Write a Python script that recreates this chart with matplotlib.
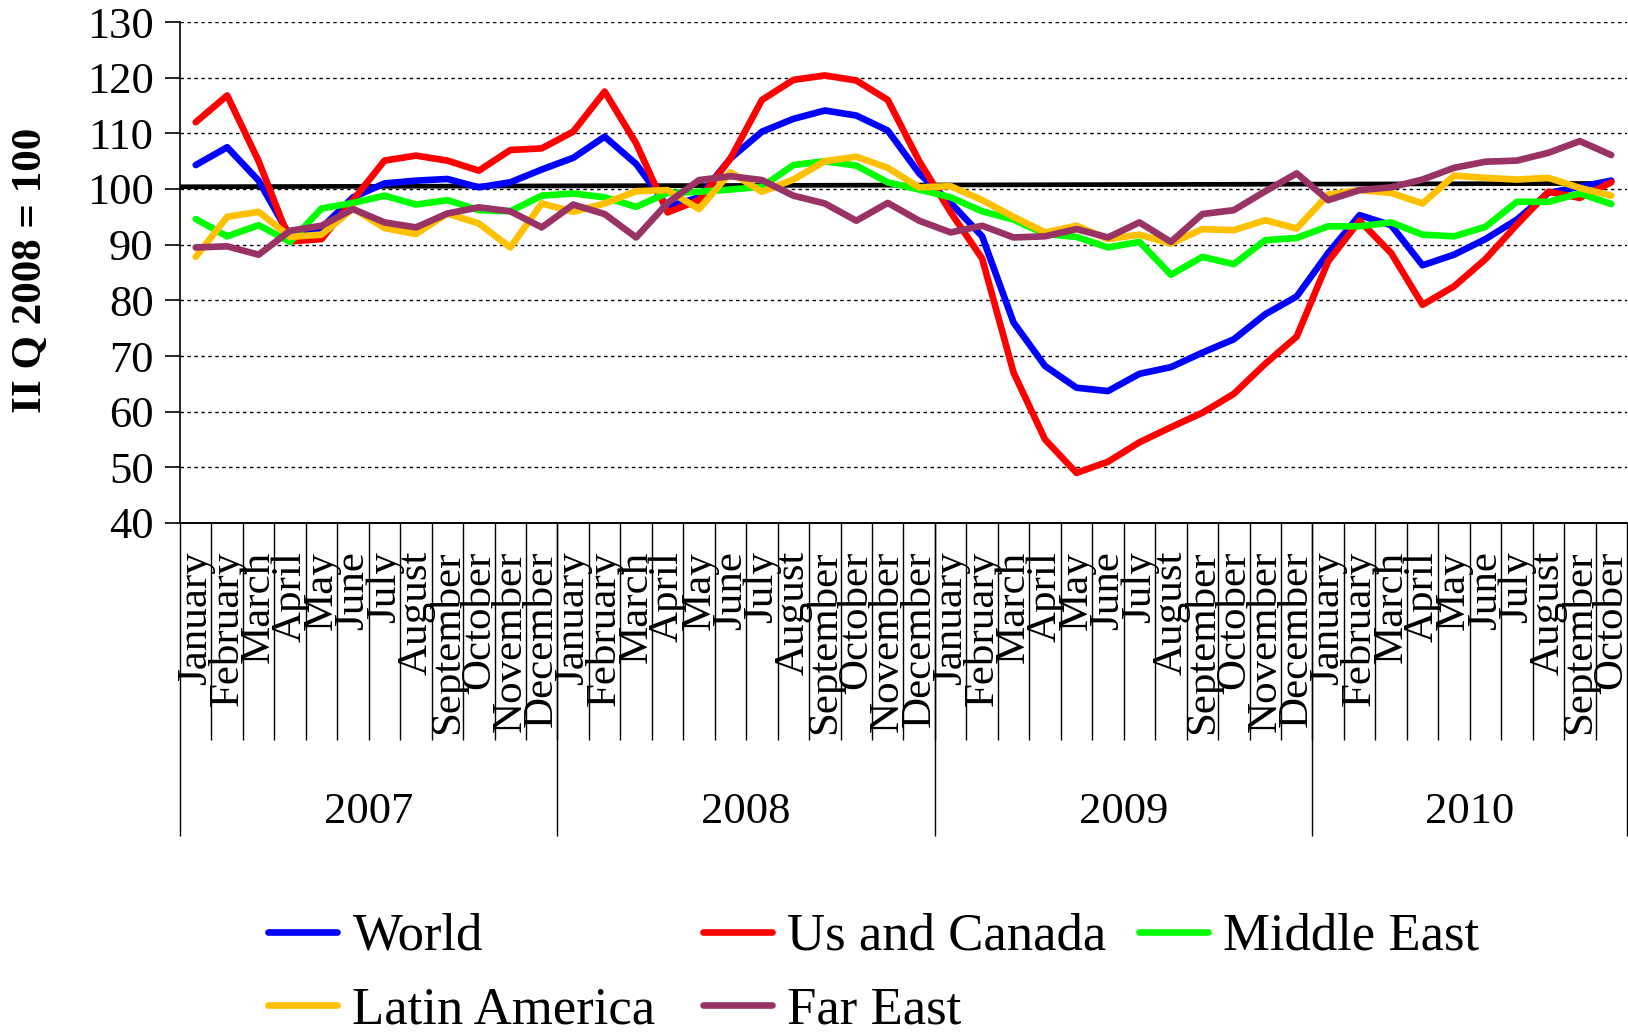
import matplotlib
matplotlib.use('Agg')
import matplotlib.pyplot as plt
import numpy as np

plt.rcParams['font.family'] = ['Liberation Serif', 'DejaVu Serif']

month_names = ['January', 'February', 'March', 'April', 'May', 'June', 'July',
               'August', 'September', 'October', 'November', 'December']
months = month_names * 3 + month_names[:10]
years = ['2007', '2008', '2009', '2010']
year_sizes = [12, 12, 12, 10]

world = [104.3, 107.5, 101.5, 91.5, 93.0, 98.5, 101.0, 101.5, 101.8, 100.3, 101.2, 103.5,
         105.6, 109.4, 104.5, 96.8, 98.5, 105.5, 110.3, 112.6, 114.1, 113.2, 110.5, 102.8,
         97.5, 91.5, 76.0, 68.2, 64.3, 63.7, 66.8, 68.0, 70.6, 73.0, 77.5, 80.7,
         88.5, 95.3, 93.5, 86.3, 88.2, 91.0, 94.5, 99.3, 100.4, 101.5]
us_canada = [112.0, 116.8, 105.0, 90.6, 91.0, 98.0, 105.1, 106.0, 105.1, 103.3, 107.0, 107.3,
             110.3, 117.5, 108.2, 95.8, 98.0, 105.5, 116.0, 119.6, 120.4, 119.5, 116.0, 105.0,
             95.8, 87.5, 67.0, 55.0, 49.0, 51.0, 54.5, 57.2, 59.8, 63.2, 68.6, 73.5,
             87.0, 94.3, 88.5, 79.2, 82.5, 87.4, 93.6, 99.5, 98.4, 101.2]
middle_east = [94.6, 91.5, 93.5, 90.5, 96.5, 97.5, 98.8, 97.2, 98.0, 96.2, 96.0, 98.8,
               99.2, 98.5, 96.8, 99.3, 99.5, 99.9, 100.4, 104.3, 105.0, 104.2, 101.2, 99.9,
               98.5, 96.0, 94.5, 91.9, 91.4, 89.5, 90.5, 84.6, 87.8, 86.5, 90.8, 91.2,
               93.3, 93.3, 94.0, 91.8, 91.5, 93.2, 97.7, 97.7, 99.2, 97.3]
latin_america = [87.8, 95.0, 95.9, 91.4, 91.8, 96.5, 93.0, 91.9, 95.6, 93.8, 89.5, 97.4,
                 95.9, 97.4, 99.6, 99.8, 96.4, 103.0, 99.5, 101.7, 105.0, 105.8, 103.8, 100.3,
                 100.5, 98.0, 95.0, 92.2, 93.4, 91.0, 91.8, 90.2, 92.8, 92.6, 94.4, 92.9,
                 99.0, 99.8, 99.3, 97.4, 102.4, 102.0, 101.7, 102.0, 100.2, 98.8]
far_east = [89.5, 89.7, 88.2, 92.5, 93.4, 96.4, 94.0, 93.1, 95.6, 96.7, 96.0, 93.1,
            97.2, 95.5, 91.3, 97.5, 101.6, 102.3, 101.6, 98.8, 97.4, 94.3, 97.5, 94.3,
            92.2, 93.4, 91.3, 91.5, 92.8, 91.3, 94.0, 90.5, 95.5, 96.2, 99.6, 102.8,
            98.0, 99.8, 100.3, 101.7, 103.8, 104.9, 105.1, 106.5, 108.6, 106.1]
baseline = [100.4, 101.0]  # black reference line, left and right end

series = [('World', world, '#0000FF'),
          ('Us and Canada', us_canada, '#FF0000'),
          ('Middle East', middle_east, '#00FF00'),
          ('Latin America', latin_america, '#FFC000'),
          ('Far East', far_east, '#993366')]

W, H = 1628, 1034
fig = plt.figure(figsize=(W / 100, H / 100), dpi=100)
ax = fig.add_axes([180 / W, 1 - 523 / H, (1627 - 180) / W, (523 - 22) / H])

n = len(months)
x = np.arange(n) + 0.5

ax.plot([0, n - 0.5], baseline, color='black', lw=3.4, zorder=2, solid_capstyle='butt')
lines = {}
for name, vals, col in series:
    lines[name], = ax.plot(x, vals, color=col, lw=4.8, zorder=3,
                           solid_joinstyle='round', solid_capstyle='round', label=name)

ax.set_xlim(0, n)
ax.set_ylim(40, 130)
ax.set_yticks(np.arange(40, 131, 10))
for v in range(50, 131, 10):
    ax.axhline(v, color='black', lw=1.0, dashes=(2.5, 2.5), zorder=1)
ax.tick_params(axis='y', length=11, width=1.2, labelsize=32, pad=8, direction='out')

for s in ['top', 'right']:
    ax.spines[s].set_visible(False)
for s in ['left', 'bottom']:
    ax.spines[s].set_linewidth(1.2)

# month labels and separators
ax.set_xticks(x)
ax.set_xticklabels(months, rotation=90, fontsize=31)
ax.tick_params(axis='x', which='major', length=0, pad=20)
ax.set_xticks(np.arange(1, n), minor=True)
ax.tick_params(axis='x', which='minor', length=156, width=1.0, direction='out')

# year labels and long separators
bounds = np.concatenate([[0], np.cumsum(year_sizes)])
sec = ax.secondary_xaxis('bottom')
sec.set_xticks(bounds)
sec.set_xticklabels([''] * len(bounds))
sec.tick_params(axis='x', which='major', length=225, width=1.0, direction='out')
sec.set_xticks((bounds[:-1] + bounds[1:]) / 2, minor=True)
sec.set_xticklabels(years, minor=True, fontsize=32)
sec.tick_params(axis='x', which='minor', length=0, pad=194)
sec.spines['bottom'].set_linewidth(1.2)

fig.text(31 / W, 1 - 270 / H, 'II Q 2008 = 100', rotation=90, fontsize=31,
         fontweight='bold', ha='center', va='center')

# legend: one entry per slot, as laid out in the original
legend_slots = {'World': (268, 937), 'Us and Canada': (703, 937), 'Middle East': (1139, 937),
                'Latin America': (268, 1010), 'Far East': (703, 1010)}
for name, (lx, ly) in legend_slots.items():
    fig.legend([lines[name]], [name], loc='center left', bbox_to_anchor=(lx / W, 1 - ly / H),
               frameon=False, fontsize=38, handlelength=1.3, handletextpad=0.3,
               borderpad=0, borderaxespad=0)

fig.savefig('out.png', dpi=100)
